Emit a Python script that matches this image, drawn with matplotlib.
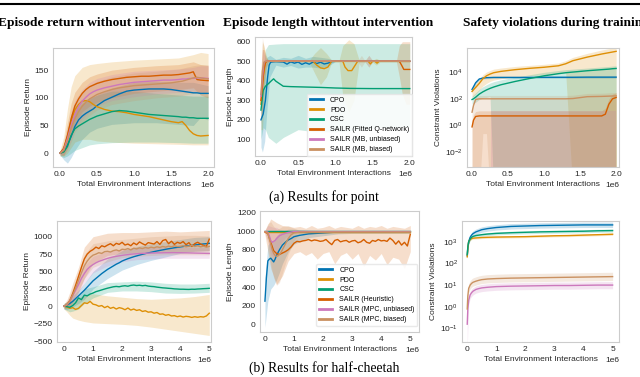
import numpy as np
import matplotlib.pyplot as plt
from matplotlib.lines import Line2D

plt.rcParams['font.family'] = ['Liberation Sans', 'DejaVu Sans']
plt.rcParams['font.size'] = 6
plt.rcParams['axes.edgecolor'] = '#cccccc'
plt.rcParams['axes.linewidth'] = 0.8
plt.rcParams['axes.labelcolor'] = '#262626'
plt.rcParams['xtick.color'] = '#262626'
plt.rcParams['ytick.color'] = '#262626'
for k in ['xtick.major.size', 'ytick.major.size', 'xtick.minor.size', 'ytick.minor.size']:
    plt.rcParams[k] = 0
plt.rcParams['xtick.major.pad'] = 3
plt.rcParams['ytick.major.pad'] = 3
plt.rcParams['axes.labelpad'] = 2

C_CPO = '#0173b2'
C_PDO = '#de8f05'
C_CSC = '#029e73'
C_SAILR = '#d55e00'
C_UNB = '#cc78bc'
C_BIA = '#ca9161'

# ---------------- point: episode return (x in 1e6 steps) ----------------
tl_x = [0, .05, .1, .15, .2, .25, .3, .35, .4, .45, .5, .6, .7, .8, .9, 1.0, 1.1, 1.2, 1.3, 1.4,
        1.5, 1.6, 1.65, 1.7, 1.75, 1.8, 1.85, 1.9, 2.0]
tl_cpo = [0, 4, 15, 30, 48, 60, 67, 72, 76, 80, 86, 95, 101, 107, 112, 114, 115, 116, 116, 116,
          115, 113, 112, 111, 110, 109, 109, 108, 108]
tl_pdo = [0, 8, 30, 58, 78, 88, 94, 95, 93, 88, 84, 79, 76, 75, 73, 70, 68, 66, 63, 60,
          57, 55, 57, 50, 41, 35, 32, 31, 32]
tl_csc = [0, 2, 12, 32, 44, 49, 53, 57, 61, 64, 67, 71, 75, 77, 76, 74, 72, 70, 69, 68,
          67, 66, 65, 65, 64, 64, 63, 63, 63]
tl_sailr = [0, 8, 32, 62, 85, 98, 108, 115, 120, 123, 126, 130, 133, 135, 137, 138, 139, 139, 140, 141,
            141, 142, 143, 144, 145, 147, 133, 132, 131]
tl_unb = [0, 6, 26, 50, 70, 84, 94, 101, 107, 111, 114, 118, 121, 124, 126, 128, 129, 130, 131, 132,
          132, 133, 134, 134, 135, 135, 136, 136, 135]
tl_bia = [0, 5, 22, 45, 62, 75, 85, 92, 98, 102, 106, 111, 115, 118, 120, 122, 123, 124, 125, 126,
          127, 129, 130, 132, 134, 136, 137, 136, 134]

tl_bx = [0, .05, .1, .15, .2, .3, .4, .5, .7, 1.0, 1.3, 1.6, 1.8, 1.9, 2.0]
tl_cpo_lo = [-3, -12, -18, -8, 5, 25, 38, 45, 52, 55, 55, 52, 50, 65, 60]
tl_cpo_hi = [3, 15, 35, 55, 75, 90, 98, 105, 118, 128, 130, 128, 128, 125, 122]
tl_pdo_lo = [-5, -5, 0, 10, 20, 25, 25, 22, 20, 18, 17, 16, 15, 15, 15]
tl_pdo_hi = [5, 30, 80, 120, 140, 155, 160, 162, 165, 168, 170, 172, 178, 182, 180]
tl_csc_lo = [-5, -8, -5, 0, 5, 10, 15, 17, 19, 20, 20, 19, 18, 18, 18]
tl_csc_hi = [5, 12, 35, 70, 85, 95, 100, 105, 112, 112, 108, 105, 103, 103, 103]
tl_sailr_lo = [-3, -5, 10, 35, 55, 75, 85, 92, 100, 108, 112, 115, 118, 105, 100]
tl_sailr_hi = [3, 20, 55, 90, 110, 128, 138, 143, 150, 155, 158, 160, 165, 160, 158]
tl_unb_lo = [-3, -3, 8, 25, 45, 62, 75, 85, 95, 102, 107, 110, 110, 110, 110]
tl_unb_hi = [3, 15, 45, 75, 95, 115, 128, 135, 142, 148, 150, 152, 155, 158, 158]
tl_bia_lo = [-3, -3, 5, 20, 38, 55, 68, 78, 88, 95, 100, 103, 108, 108, 108]
tl_bia_hi = [3, 15, 42, 70, 88, 110, 122, 130, 138, 145, 148, 152, 158, 160, 160]

# ---------------- point: episode length ----------------
tm_cpo_x = [0, .03, .06, .09, .11, .13, .16, .2, .3, .35, .4, .45, .5, .55, .6, .65, .7, .75, .8, .85,
            .9, .95, 1.0, 2.0]
tm_cpo_y = [200, 230, 300, 420, 480, 495, 497, 498, 496, 485, 497, 490, 496, 484, 492, 485, 496, 488, 495, 486,
            490, 498, 500, 500]
tm_cpo_bx = [0, .02, .05, .08, .12, .2, .3, .4, .5, .6, .7, .8, .9, 1.0, 2.0]
tm_cpo_lo = [60, 35, 90, 250, 420, 480, 470, 478, 465, 470, 470, 465, 475, 498, 498]
tm_cpo_hi = [340, 370, 460, 520, 530, 510, 520, 515, 530, 515, 525, 520, 515, 502, 502]

tm_pdo_x = [0, .03, .06, .08, .7, .75, .8, .85, .9, .95, 1.1, 1.13, 1.17, 1.22, 1.25, 1.3, 1.44, 1.47, 1.5, 1.53,
            1.56, 1.59, 2.0]
tm_pdo_y = [280, 420, 490, 500, 500, 480, 466, 462, 470, 500, 500, 470, 452, 452, 470, 500, 500, 486, 500, 500,
            490, 500, 500]
tm_pdo_bx = [0, .02, .04, .07, .1, .65, .72, .8, .88, .95, 1.05, 1.1, 1.18, 1.25, 1.32, 1.4, 1.45, 1.5, 1.55, 1.6, 2.0]
tm_pdo_lo = [150, 150, 300, 460, 495, 495, 440, 380, 420, 495, 495, 320, 240, 300, 495, 495, 470, 495, 480, 495, 495]
tm_pdo_hi = [450, 600, 580, 530, 505, 505, 540, 570, 540, 505, 505, 580, 610, 590, 505, 505, 530, 505, 515, 505, 505]

tm_csc_x = [0, .03, .06, .1, .14, .17, .2, .25, .3, .4, .6, .8, 1.0, 1.2, 1.5, 1.8, 2.0]
tm_csc_y = [250, 350, 372, 385, 400, 410, 398, 385, 372, 370, 368, 366, 363, 361, 360, 360, 360]
tm_csc_bx = [0, .03, .06, .1, .2, .3, .5, .7, 1.0, 1.3, 1.6, 2.0]
tm_csc_lo = [100, 160, 150, 110, 80, 110, 150, 140, 138, 150, 160, 165]
tm_csc_hi = [300, 450, 560, 585, 588, 590, 590, 590, 590, 590, 590, 590]

tm_sailr_x = [0, .02, .04, .06, .08, 1.86, 1.89, 1.92, 2.0]
tm_sailr_y = [300, 380, 460, 495, 500, 500, 480, 458, 458]
tm_sailr_bx = [0, .02, .04, .07, .1, 1.82, 1.86, 1.9, 1.95, 2.0]
tm_sailr_lo = [180, 250, 380, 470, 498, 498, 420, 330, 280, 280]
tm_sailr_hi = [420, 560, 560, 520, 502, 502, 580, 600, 600, 600]

tm_unb_x = [0, .02, .04, .06, 2.0]
tm_unb_y = [320, 420, 490, 500, 500]
tm_unb_bx = [0, .02, .04, .07, .1, 1.4, 1.45, 1.5, 2.0]
tm_unb_lo = [220, 300, 430, 490, 499, 499, 470, 499, 499]
tm_unb_hi = [420, 560, 540, 510, 501, 501, 530, 501, 501]

tm_bia_x = [0, .02, .04, .06, 2.0]
tm_bia_y = [330, 450, 495, 500, 500]
tm_bia_bx = [0, .02, .04, .07, .1, 1.3, 1.35, 1.4, 2.0]
tm_bia_lo = [240, 330, 450, 490, 499, 499, 470, 499, 499]
tm_bia_hi = [430, 620, 570, 515, 501, 501, 530, 501, 501]

# ---------------- point: constraint violations (log10 values) ----------------
tr_x = [0, .02, .05, .1, .15, .2, .25, .3, .4, .6, .8, 1.0, 1.2, 1.3, 1.4, 1.6, 1.8, 1.85, 1.9, 1.95, 2.0]
tr_cpo = [2.7, 2.9, 3.2, 3.48, 3.55, 3.58, 3.59, 3.6, 3.6, 3.6, 3.6, 3.61, 3.61, 3.61, 3.61, 3.62, 3.62, 3.62, 3.62, 3.62, 3.62]
tr_cpo_lo = [2.5, 2.75, 3.08, 3.4, 3.48, 3.5, 3.51, 3.52, 3.52, 3.52, 3.52, 3.53, 3.53, 3.53, 3.53, 3.54, 3.54, 3.54, 3.54, 3.54, 3.54]
tr_cpo_hi = [2.85, 3.05, 3.35, 3.58, 3.64, 3.66, 3.67, 3.68, 3.68, 3.68, 3.68, 3.69, 3.69, 3.69, 3.69, 3.7, 3.7, 3.7, 3.7, 3.7, 3.7]
tr_pdo = [2.55, 2.68, 2.85, 3.15, 3.5, 3.72, 3.85, 3.95, 4.05, 4.18, 4.28, 4.36, 4.47, 4.62, 4.85, 5.12, 5.35, 5.4, 5.45, 5.5, 5.55]
tr_pdo_lo = [2.1, 2.2, 2.35, 2.65, 2.95, 3.15, 3.3, 3.4, 3.5, 3.62, 3.72, 3.8, 3.9, 3.95, -5, -5, -5, -5, -5, -5, -5]
tr_pdo_hi = [2.8, 2.95, 3.15, 3.45, 3.8, 4.0, 4.12, 4.22, 4.3, 4.42, 4.5, 4.58, 4.68, 4.85, 5.1, 5.4, 5.65, 5.7, 5.75, 5.8, 5.85]
tr_csc = [1.95, 2.0, 2.12, 2.35, 2.52, 2.66, 2.78, 2.88, 3.05, 3.3, 3.52, 3.72, 3.88, 3.95, 4.0, 4.1, 4.18, 4.2, 4.22, 4.25, 4.27]
tr_csc_lo = [1.6, 1.65, 1.75, 1.95, 2.05, 2.1, 2.15, -5, -5, -5, -5, -5, -5, -5, -5, -5, -5, -5, -5, -5, -5]
tr_csc_hi = [2.2, 2.3, 2.45, 2.7, 2.9, 3.05, 3.18, 3.28, 3.42, 3.62, 3.8, 3.98, 4.12, 4.18, 4.22, 4.3, 4.38, 4.4, 4.42, 4.45, 4.47]
tr_sailr = [-0.1, 0.4, 0.68, 0.72, 0.72, 0.72, 0.72, 0.72, 0.72, 0.72, 0.72, 0.72, 0.72, 0.72, 0.72, 0.72, 0.72, 0.85, 1.6, 2.0, 2.1]
tr_sailr_lo = [-5] * 21
tr_sailr_hi = [0.3, 0.8, 1.05, 1.1, 1.1, 1.1, 1.1, 1.1, 1.1, 1.1, 1.1, 1.1, 1.1, 1.1, 1.1, 1.1, 1.1, 1.3, 2.0, 2.35, 2.45]
tr_bia = [1.0, 1.5, 1.95, 2.0, 2.0, 2.0, 2.0, 2.0, 2.0, 2.0, 2.0, 2.0, 2.0, 2.0, 2.02, 2.16, 2.18, 2.19, 2.2, 2.21, 2.22]
tr_bia_lo = [-5, -5, -5, -5, -0.6, -0.6, -5, -5, -5, -5, -5, -5, -5, -5, -5, -5, -5, -5, -5, -5, -5]
tr_bia_hi = [1.3, 1.8, 2.2, 2.25, 2.25, 2.25, 2.25, 2.25, 2.25, 2.25, 2.25, 2.25, 2.25, 2.25, 2.27, 2.4, 2.42, 2.43, 2.45, 2.46, 2.47]
# unbiased model-based run: no line visible (zero violations), only its band
tr_unb_bx = [0.27, 2.0]
tr_unb_lo = [-5, -5]
tr_unb_hi = [1.1, 1.1]

# ---------------- half-cheetah: episode return ----------------
bl_x = [round(0.1 * i, 1) for i in range(51)]
bl_cpo = [0, 15, 40, 70, 110, 150, 190, 230, 275, 320, 365, 400, 435, 470, 500, 530, 555, 580, 605, 625,
          650, 668, 684, 698, 712, 724, 736, 747, 757, 767, 776, 786, 795, 803, 811, 819, 827, 834, 841, 847,
          853, 859, 865, 870, 876, 881, 886, 891, 896, 900, 905]
bl_pdo = [0, -10, -30, -20, -45, -30, 10, 50, 40, 70, 30, 20, 0, 10, -20, 0, -30, -15, -40, -20,
          -30, -50, -25, -55, -40, -60, -50, -75, -65, -85, -80, -100, -90, -115, -110, -130, -120, -140, -135, -150,
          -140, -155, -145, -150, -160, -150, -158, -150, -155, -140, -100]
bl_csc = [0, -5, -15, 10, 50, 120, 95, 160, 150, 175, 190, 210, 222, 235, 248, 260, 270, 280, 285, 280,
          290, 295, 288, 300, 305, 298, 302, 295, 300, 290, 285, 282, 275, 270, 265, 262, 258, 255, 250, 248,
          245, 245, 243, 242, 245, 244, 248, 250, 253, 255, 258]
bl_sailr = [0, 20, 80, 180, 300, 430, 560, 680, 750, 790, 815, 850, 830, 870, 855, 880, 900, 870, 905, 890,
            920, 880, 895, 870, 910, 885, 925, 900, 880, 915, 905, 895, 930, 890, 945, 960, 900, 935, 890, 920,
            905, 930, 885, 915, 860, 900, 920, 895, 875, 860, 965]
bl_unb = [0, 20, 70, 150, 230, 310, 400, 470, 530, 570, 600, 625, 645, 660, 675, 688, 700, 710, 718, 725,
          732, 738, 742, 748, 752, 755, 758, 760, 762, 764, 765, 766, 768, 768, 769, 770, 770, 771, 771, 770,
          770, 769, 768, 767, 766, 765, 764, 763, 762, 761, 760]
bl_bia = [0, 20, 70, 160, 260, 370, 480, 580, 650, 700, 735, 750, 770, 760, 785, 790, 780, 800, 810, 795,
          820, 815, 830, 810, 835, 825, 840, 830, 845, 835, 850, 840, 855, 845, 860, 850, 865, 855, 870, 858,
          862, 870, 855, 865, 875, 860, 870, 855, 865, 850, 860]

bl_bx = [0, .1, .2, .3, .5, .7, 1.0, 1.5, 2.0, 2.5, 3.0, 3.5, 4.0, 4.5, 5.0]
bl_cpo_lo = [-40, -50, -30, -10, 40, 100, 250, 400, 520, 600, 660, 710, 760, 790, 800]
bl_cpo_hi = [40, 60, 100, 150, 230, 330, 500, 680, 800, 860, 900, 930, 960, 990, 1000]
bl_pdo_lo = [-40, -80, -130, -170, -200, -220, -240, -250, -260, -275, -300, -330, -360, -390, -420]
bl_pdo_hi = [40, 70, 80, 100, 120, 160, 180, 150, 130, 110, 100, 110, 120, 140, 170]
bl_csc_lo = [-40, -60, -80, -70, -40, 40, 120, 200, 220, 220, 210, 190, 185, 190, 200]
bl_csc_hi = [40, 60, 60, 80, 160, 250, 280, 340, 350, 360, 350, 330, 320, 320, 330]
bl_sailr_lo = [-30, -30, 0, 60, 200, 400, 620, 730, 760, 770, 780, 790, 780, 790, 800]
bl_sailr_hi = [30, 90, 200, 330, 560, 850, 1000, 1050, 1060, 1060, 1070, 1080, 1070, 1080, 1090]
bl_unb_lo = [-30, -20, 20, 80, 200, 330, 480, 580, 640, 670, 680, 690, 690, 690, 690]
bl_unb_hi = [30, 60, 130, 230, 400, 580, 720, 790, 820, 840, 850, 850, 850, 845, 840]
bl_bia_lo = [-30, -20, 20, 90, 230, 400, 560, 640, 700, 720, 730, 740, 740, 740, 740]
bl_bia_hi = [30, 70, 150, 260, 480, 740, 900, 940, 960, 980, 1000, 1010, 1020, 1020, 1010]

# ---------------- half-cheetah: episode length ----------------
bm_cpo_x = [0, .05, .1, .15, .2, .25, .3, .35, .4, .5, .6, .7, .8, .9, 1.0, 1.2, 1.5, 2.0, 2.5, 5.0]
bm_cpo_y = [250, 500, 680, 700, 710, 690, 670, 700, 740, 800, 850, 880, 905, 920, 940, 955, 970, 980, 990, 990]
bm_cpo_bx = [0, .1, .2, .3, .4, .5, .6, .8, 1.0, 1.5, 2.0, 2.5, 3.0, 3.5, 4.0, 4.5, 5.0]
bm_cpo_lo = [-30, 250, 380, 420, 480, 560, 650, 780, 860, 930, 950, 970, 975, 975, 975, 975, 975]
bm_cpo_hi = [500, 850, 900, 900, 950, 980, 1000, 1020, 1020, 1010, 1005, 1005, 1005, 1005, 1005, 1005, 1005]
bm_pdo_x = [0, 5.0]
bm_pdo_y = [992, 992]
bm_csc_x = [0, 5.0]
bm_csc_y = [1000, 1000]
bm_sailr_x = bl_x
bm_sailr_y = [990, 975, 880, 790, 760, 750, 765, 780, 800, 830, 870, 890, 885, 895, 900, 910, 895, 905, 900, 890,
              895, 910, 880, 855, 900, 910, 885, 895, 900, 880, 895, 900, 875, 885, 910, 880, 870, 900, 890, 910,
              895, 900, 890, 925, 900, 860, 895, 850, 880, 840, 965]
bm_sailr_bx = [round(0.2 * i, 1) for i in range(26)]
bm_sailr_lo = [960, 600, 430, 520, 680, 760, 780, 740, 770, 700, 760, 780, 650, 740, 770, 700, 760, 620, 740, 690,
               760, 640, 720, 700, 600, 780]
bm_sailr_hi = [1010, 1130, 1090, 1060, 1050, 1040, 1050, 1030, 1060, 1030, 1040, 1060, 1030, 1050, 1040, 1030, 1060,
               1030, 1050, 1040, 1060, 1030, 1050, 1040, 1030, 1060]
bm_unb_x = [0, .1, .15, .2, .25, .3, .35, .4, .5, .6, .7, .8, .9, 1.0, 5.0]
bm_unb_y = [995, 990, 950, 900, 880, 890, 900, 920, 950, 965, 975, 985, 990, 995, 995]
bm_unb_bx = [0, .1, .2, .3, .4, .5, .7, 1.0, 5.0]
bm_unb_lo = [980, 900, 750, 720, 760, 850, 930, 985, 985]
bm_unb_hi = [1005, 1060, 1050, 1040, 1040, 1020, 1010, 1003, 1003]
bm_bia_x = [0, .1, .15, .2, .25, .3, .35, .4, .45, .5, .55, .6, .7, .8, .9, 1.0, 1.2, 5.0]
bm_bia_y = [995, 980, 920, 860, 800, 760, 740, 730, 735, 750, 770, 800, 860, 920, 960, 980, 990, 990]
bm_bia_bx = [0, .1, .2, .3, .4, .5, .6, .8, 1.0, 1.2, 5.0]
bm_bia_lo = [980, 880, 650, 500, 420, 450, 550, 750, 900, 975, 980]
bm_bia_hi = [1005, 1080, 1100, 1050, 1020, 1030, 1050, 1060, 1030, 1005, 1000]

# ---------------- half-cheetah: constraint violations (log10 values) ----------------
br_x = [0, .02, .05, .1, .15, .2, .3, .4, .5, .7, 1.0, 1.5, 2.0, 2.5, 3.0, 3.5, 4.0, 4.5, 5.0]
br_cpo = [2.35, 2.7, 3.0, 3.2, 3.3, 3.37, 3.45, 3.5, 3.55, 3.6, 3.65, 3.7, 3.72, 3.74, 3.75, 3.76, 3.77, 3.77, 3.77]
br_cpo_lo = [2.2, 2.55, 2.88, 3.08, 3.18, 3.25, 3.33, 3.38, 3.43, 3.48, 3.53, 3.58, 3.6, 3.62, 3.63, 3.64, 3.65, 3.65, 3.65]
br_cpo_hi = [2.5, 2.85, 3.12, 3.32, 3.43, 3.5, 3.58, 3.63, 3.68, 3.73, 3.78, 3.83, 3.85, 3.87, 3.88, 3.89, 3.9, 3.9, 3.9]
br_pdo = [2.3, 2.7, 3.0, 3.1, 3.14, 3.16, 3.17, 3.18, 3.19, 3.2, 3.21, 3.22, 3.23, 3.25, 3.27, 3.28, 3.3, 3.32, 3.34]
br_pdo_lo = [2.2, 2.62, 2.94, 3.05, 3.09, 3.11, 3.12, 3.13, 3.14, 3.15, 3.16, 3.17, 3.18, 3.2, 3.22, 3.23, 3.25, 3.27, 3.29]
br_pdo_hi = [2.4, 2.78, 3.06, 3.15, 3.19, 3.21, 3.22, 3.23, 3.24, 3.25, 3.26, 3.27, 3.28, 3.3, 3.32, 3.33, 3.35, 3.37, 3.39]
br_csc = [2.4, 2.75, 3.0, 3.12, 3.2, 3.24, 3.28, 3.3, 3.32, 3.35, 3.38, 3.41, 3.43, 3.45, 3.46, 3.47, 3.48, 3.5, 3.51]
br_csc_lo = [2.25, 2.62, 2.9, 3.05, 3.13, 3.17, 3.21, 3.23, 3.25, 3.28, 3.31, 3.34, 3.36, 3.38, 3.39, 3.4, 3.41, 3.43, 3.44]
br_csc_hi = [2.55, 2.88, 3.1, 3.19, 3.27, 3.31, 3.35, 3.37, 3.39, 3.42, 3.45, 3.48, 3.5, 3.52, 3.53, 3.54, 3.55, 3.57, 3.58]
br_unb = [-0.8, -0.1, 0.3, 0.55, 0.65, 0.72, 0.8, 0.84, 0.87, 0.9, 0.93, 0.95, 0.96, 0.97, 0.98, 0.98, 0.99, 1.0, 1.0]
br_unb_lo = [-2, -1.0, 0.1, 0.38, 0.48, 0.55, 0.63, 0.67, 0.7, 0.73, 0.76, 0.78, 0.79, 0.8, 0.81, 0.81, 0.82, 0.83, 0.83]
br_unb_hi = [-0.3, 0.15, 0.48, 0.72, 0.82, 0.88, 0.96, 1.0, 1.03, 1.06, 1.09, 1.11, 1.12, 1.13, 1.14, 1.14, 1.15, 1.16, 1.16]
br_bia = [-0.1, 0.5, 0.85, 1.0, 1.08, 1.13, 1.18, 1.22, 1.25, 1.28, 1.3, 1.32, 1.33, 1.34, 1.35, 1.36, 1.37, 1.38, 1.39]
br_bia_lo = [-0.5, 0.25, 0.65, 0.82, 0.9, 0.95, 1.0, 1.04, 1.07, 1.1, 1.12, 1.14, 1.15, 1.16, 1.17, 1.18, 1.19, 1.2, 1.21]
br_bia_hi = [0.3, 0.75, 1.05, 1.2, 1.28, 1.33, 1.38, 1.42, 1.45, 1.48, 1.5, 1.52, 1.53, 1.54, 1.55, 1.56, 1.57, 1.58, 1.59]

labels_point = ['CPO', 'PDO', 'CSC', 'SAILR (Fitted Q-network)', 'SAILR (MB, unbiased)', 'SAILR (MB, biased)']
labels_cheetah = ['CPO', 'PDO', 'CSC', 'SAILR (Heuristic)', 'SAILR (MPC, unbiased)', 'SAILR (MPC, biased)']
colors = [C_CPO, C_PDO, C_CSC, C_SAILR, C_UNB, C_BIA]


def series(ax, x, y, color, bx=None, lo=None, hi=None, log=False):
    if bx is not None:
        lo = np.array(lo, dtype=float)
        hi = np.array(hi, dtype=float)
        if log:
            lo, hi = 10 ** lo, 10 ** hi
        ax.fill_between(np.array(bx) * 1e6, lo, hi, color=color, alpha=0.2, lw=0)
    if x is None:
        return
    y = np.array(y, dtype=float)
    if log:
        y = 10 ** y
    ax.plot(np.array(x) * 1e6, y, color=color, lw=1.0)


def style(ax, ylabel, xticks):
    ax.set_xlabel('Total Environment Interactions')
    ax.set_ylabel(ylabel)
    ax.set_xticks(np.array(xticks) * 1e6)


def legend(ax, labels, anchor):
    handles = [Line2D([], [], color=c, lw=2) for c in colors]
    ax.legend(handles, labels, loc='lower right', bbox_to_anchor=anchor, fontsize=5,
              framealpha=0.85, edgecolor='#e6e6e6', fancybox=True, borderaxespad=0,
              labelspacing=0.42, handlelength=1.9, handletextpad=1.0, borderpad=0.4)


fig = plt.figure(figsize=(6.4, 3.77), dpi=100)


def box(l, r, t, b):
    return [l / 640, 1 - b / 377, (r - l) / 640, (b - t) / 377]


# top left
ax = fig.add_axes(box(53, 214, 48, 167))
series(ax, tl_x, tl_cpo, C_CPO, tl_bx, tl_cpo_lo, tl_cpo_hi)
series(ax, tl_x, tl_pdo, C_PDO, tl_bx, tl_pdo_lo, tl_pdo_hi)
series(ax, tl_x, tl_csc, C_CSC, tl_bx, tl_csc_lo, tl_csc_hi)
series(ax, tl_x, tl_sailr, C_SAILR, tl_bx, tl_sailr_lo, tl_sailr_hi)
series(ax, tl_x, tl_unb, C_UNB, tl_bx, tl_unb_lo, tl_unb_hi)
series(ax, tl_x, tl_bia, C_BIA, tl_bx, tl_bia_lo, tl_bia_hi)
ax.set_xlim(-0.095e6, 2.08e6)
ax.set_ylim(-25, 190)
ax.set_yticks([0, 50, 100, 150])
style(ax, 'Episode Return', [0, 0.5, 1.0, 1.5, 2.0])

# top middle
ax = fig.add_axes(box(255, 412, 37, 156))
series(ax, tm_cpo_x, tm_cpo_y, C_CPO, tm_cpo_bx, tm_cpo_lo, tm_cpo_hi)
series(ax, tm_pdo_x, tm_pdo_y, C_PDO, tm_pdo_bx, tm_pdo_lo, tm_pdo_hi)
series(ax, tm_csc_x, tm_csc_y, C_CSC, tm_csc_bx, tm_csc_lo, tm_csc_hi)
series(ax, tm_sailr_x, tm_sailr_y, C_SAILR, tm_sailr_bx, tm_sailr_lo, tm_sailr_hi)
series(ax, tm_unb_x, tm_unb_y, C_UNB, tm_unb_bx, tm_unb_lo, tm_unb_hi)
series(ax, tm_bia_x, tm_bia_y, C_BIA, tm_bia_bx, tm_bia_lo, tm_bia_hi)
ax.set_xlim(-0.08e6, 2.03e6)
ax.set_ylim(15, 624)
ax.set_yticks([100, 200, 300, 400, 500, 600])
style(ax, 'Episode Length', [0, 0.5, 1.0, 1.5, 2.0])
legend(ax, labels_point, (1.0, 0.0))

# top right
ax = fig.add_axes(box(467, 619, 48, 167))
ax.set_yscale('log')
series(ax, tr_x, tr_cpo, C_CPO, tr_x, tr_cpo_lo, tr_cpo_hi, log=True)
series(ax, tr_x, tr_pdo, C_PDO, tr_x, tr_pdo_lo, tr_pdo_hi, log=True)
series(ax, tr_x, tr_csc, C_CSC, tr_x, tr_csc_lo, tr_csc_hi, log=True)
series(ax, tr_x, tr_sailr, C_SAILR, tr_x, tr_sailr_lo, tr_sailr_hi, log=True)
series(ax, None, None, C_UNB, tr_unb_bx, tr_unb_lo, tr_unb_hi, log=True)
series(ax, tr_x, tr_bia, C_BIA, tr_x, tr_bia_lo, tr_bia_hi, log=True)
ax.set_xlim(-0.07e6, 2.04e6)
ax.set_ylim(10 ** -3.1, 10 ** 5.8)
ax.set_yticks([1e-2, 1, 1e2, 1e4])
ax.minorticks_off()
style(ax, 'Constraint Violations', [0, 0.5, 1.0, 1.5, 2.0])

# bottom left
ax = fig.add_axes(box(57, 211, 221, 342))
series(ax, bl_x, bl_cpo, C_CPO, bl_bx, bl_cpo_lo, bl_cpo_hi)
series(ax, bl_x, bl_pdo, C_PDO, bl_bx, bl_pdo_lo, bl_pdo_hi)
series(ax, bl_x, bl_csc, C_CSC, bl_bx, bl_csc_lo, bl_csc_hi)
series(ax, bl_x, bl_sailr, C_SAILR, bl_bx, bl_sailr_lo, bl_sailr_hi)
series(ax, bl_x, bl_unb, C_UNB, bl_bx, bl_unb_lo, bl_unb_hi)
series(ax, bl_x, bl_bia, C_BIA, bl_bx, bl_bia_lo, bl_bia_hi)
ax.set_xlim(-0.24e6, 5.06e6)
ax.set_ylim(-514, 1226)
ax.set_yticks([-500, -250, 0, 250, 500, 750, 1000])
style(ax, 'Episode Return', [0, 1, 2, 3, 4, 5])

# bottom middle
ax = fig.add_axes(box(260, 419, 211, 332))
series(ax, bm_cpo_x, bm_cpo_y, C_CPO, bm_cpo_bx, bm_cpo_lo, bm_cpo_hi)
series(ax, bm_pdo_x, bm_pdo_y, C_PDO)
series(ax, bm_csc_x, bm_csc_y, C_CSC)
series(ax, bm_sailr_x, bm_sailr_y, C_SAILR, bm_sailr_bx, bm_sailr_lo, bm_sailr_hi)
series(ax, bm_unb_x, bm_unb_y, C_UNB, bm_unb_bx, bm_unb_lo, bm_unb_hi)
series(ax, bm_bia_x, bm_bia_y, C_BIA, bm_bia_bx, bm_bia_lo, bm_bia_hi)
ax.set_xlim(-0.17e6, 5.3e6)
ax.set_ylim(-80, 1215)
ax.set_yticks([0, 200, 400, 600, 800, 1000, 1200])
style(ax, 'Episode Length', [0, 1, 2, 3, 4, 5])
legend(ax, labels_cheetah, (0.99, 0.05))

# bottom right
ax = fig.add_axes(box(462, 619, 221, 342))
ax.set_yscale('log')
series(ax, br_x, br_cpo, C_CPO, br_x, br_cpo_lo, br_cpo_hi, log=True)
series(ax, br_x, br_pdo, C_PDO, br_x, br_pdo_lo, br_pdo_hi, log=True)
series(ax, br_x, br_csc, C_CSC, br_x, br_csc_lo, br_csc_hi, log=True)
series(ax, br_x, br_unb, C_UNB, br_x, br_unb_lo, br_unb_hi, log=True)
series(ax, br_x, br_bia, C_BIA, br_x, br_bia_lo, br_bia_hi, log=True)
ax.set_xlim(-0.18e6, 5.22e6)
ax.set_ylim(10 ** -1.62, 10 ** 3.95)
ax.set_yticks([1e-1, 1, 1e1, 1e2, 1e3])
ax.minorticks_off()
style(ax, 'Constraint Violations', [0, 1, 2, 3, 4, 5])

# titles and captions
serif = ['Liberation Serif', 'DejaVu Serif']
fig.text(101 / 640, 1 - 23 / 377, 'Episode return without intervention', ha='center', va='center',
         family=serif, weight='bold', fontsize=9.6)
fig.text(328 / 640, 1 - 23 / 377, 'Episode length withtout intervention', ha='center', va='center',
         family=serif, weight='bold', fontsize=9.6)
fig.text(463 / 640, 1 - 23 / 377, 'Safety violations during training', ha='left', va='center',
         family=serif, weight='bold', fontsize=9.6)
fig.text(324 / 640, 1 - 197 / 377, '(a) Results for point', ha='center', va='center',
         family=serif, fontsize=9.8)
fig.text(324 / 640, 1 - 368 / 377, '(b) Results for half-cheetah', ha='center', va='center',
         family=serif, fontsize=9.8)
fig.add_artist(Line2D([0, 1], [1 - 4 / 377, 1 - 4 / 377], color='black', lw=1.5))

fig.savefig('out.png', dpi=100)
